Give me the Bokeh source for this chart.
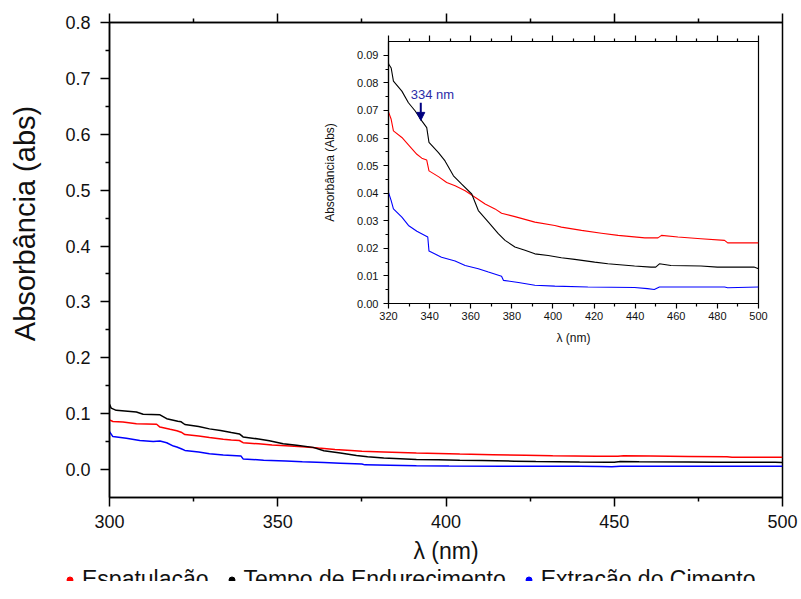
from bokeh.plotting import figure
from bokeh.models import (Range1d, LinearAxis, FixedTicker, PrintfTickFormatter, Legend,
                          LegendItem, Label, Arrow, NormalHead, GridBox,
                          CustomJSTickFormatter)
from bokeh.embed import file_html
from bokeh.resources import INLINE

FONT = "Liberation Sans"

# ---------------- data ----------------
series_names = ["Espatulação", "Tempo de Endurecimento", "Extração do Cimento"]
series_colors = ["#ff0000", "#000000", "#0000ff"]

esp_nm = [300, 301, 304, 308, 314, 315, 318, 320, 321.3, 322.4, 326.5, 329.7, 333.8, 336.2,
          338.6, 339.7, 344.3, 348.3, 352.4, 357.3, 362.1, 367, 371.8, 375, 381.5, 391.2,
          400.9, 404.1, 413.9, 423.6, 431.7, 444.7, 451.1, 452.8, 460.8, 472, 483.5, 485, 500]
esp_abs = [0.089, 0.086, 0.085, 0.082, 0.081, 0.076, 0.072, 0.0695, 0.0668, 0.0626, 0.0602,
           0.0575, 0.0541, 0.0527, 0.0520, 0.0481, 0.0460, 0.0439, 0.0427, 0.0409, 0.0385,
           0.0361, 0.0343, 0.0327, 0.0315, 0.0295, 0.0283, 0.0277, 0.0265, 0.0255, 0.0247,
           0.0238, 0.0238, 0.0247, 0.0241, 0.0235, 0.0229, 0.0220, 0.0220]

tempo_nm = [300, 300.5, 302, 308, 310, 315, 317, 320.3, 321.3, 322.4, 326.5, 329.7, 333,
            336.2, 338.6, 339.7, 344.3, 347.5, 351.6, 355.6, 360.5, 363.7, 368.6, 373.4,
            376.7, 381.5, 386.4, 391.2, 397.7, 404.1, 410.6, 420.3, 426.7, 439.7, 447.7,
            450, 451.8, 457.4, 472, 480, 497.8, 500]
tempo_abs = [0.117, 0.110, 0.106, 0.103, 0.099, 0.098, 0.091, 0.0866, 0.0854, 0.0806,
             0.0770, 0.0728, 0.0698, 0.0662, 0.0638, 0.0584, 0.0547, 0.0517, 0.0463, 0.0433,
             0.0397, 0.0337, 0.0295, 0.0253, 0.0229, 0.0205, 0.0193, 0.0180, 0.0174, 0.0166,
             0.0160, 0.0150, 0.0144, 0.0136, 0.0132, 0.0132, 0.0144, 0.0138, 0.0136, 0.0132,
             0.0132, 0.0126]

extr_nm = [300, 301, 305, 309, 313, 315, 317, 319, 320, 321.3, 322.4, 326.5, 329.7, 333.8,
           339.1, 339.7, 345.8, 352.4, 357.3, 363.7, 368.6, 375, 375.9, 383.2, 391.2, 400.9,
           417, 439.7, 446, 449.3, 451.8, 483.5, 485, 500]
extr_abs = [0.068, 0.059, 0.056, 0.052, 0.050, 0.051, 0.048, 0.042, 0.0403, 0.0373, 0.0343,
            0.0313, 0.0283, 0.0262, 0.0241, 0.0190, 0.0168, 0.0154, 0.0138, 0.0126, 0.0114,
            0.0099, 0.0084, 0.0076, 0.0066, 0.0063, 0.0060, 0.0058, 0.0054, 0.0051, 0.0060,
            0.0060, 0.0057, 0.0060]

main_x_ticks = [300, 350, 400, 450, 500]
main_x_minor = [325, 375, 425, 475]
main_y_ticks = [0.0, 0.1, 0.2, 0.3, 0.4, 0.5, 0.6, 0.7, 0.8]
main_y_minor = [0.05, 0.15, 0.25, 0.35, 0.45, 0.55, 0.65, 0.75]

inset_x_ticks = [320, 340, 360, 380, 400, 420, 440, 460, 480, 500]
inset_x_minor = [330, 350, 370, 390, 410, 430, 450, 470, 490]
inset_y_ticks = [0.00, 0.01, 0.02, 0.03, 0.04, 0.05, 0.06, 0.07, 0.08, 0.09]
inset_y_minor = [0.005, 0.015, 0.025, 0.035, 0.045, 0.055, 0.065, 0.075, 0.085]

main_y_title = "Absorbância (abs)"
peak_label = "334 nm"
peak_nm = 335.7
peak_label_pos = (341.4, 0.0758)
peak_arrow_from = 0.0728
peak_arrow_to = 0.0664

series = [(esp_nm, esp_abs), (tempo_nm, tempo_abs), (extr_nm, extr_abs)]


def style_axis(ax, font_size, tick_out, minor_out, standoff, width):
    ax.major_label_text_font = FONT
    ax.major_label_text_font_size = font_size
    ax.major_label_text_color = "#111111"
    ax.axis_label_text_font = FONT
    ax.axis_label_text_font_style = "normal"
    ax.axis_label_text_color = "#111111"
    ax.major_tick_out = tick_out
    ax.major_tick_in = 0
    ax.minor_tick_out = minor_out
    ax.minor_tick_in = 0
    ax.major_label_standoff = standoff
    ax.axis_line_width = width
    ax.major_tick_line_width = width
    ax.minor_tick_line_width = width
    ax.axis_line_color = "black"
    ax.major_tick_line_color = "black"
    ax.minor_tick_line_color = "black"


def overlay_fig(w, h):
    f = figure(width=w, height=h, output_backend="svg", toolbar_location=None,
               x_range=Range1d(0, 1), y_range=Range1d(0, 1),
               x_axis_type=None, y_axis_type=None, min_border=0,
               background_fill_alpha=0, border_fill_alpha=0, outline_line_color=None)
    f.grid.visible = False
    return f


blank = CustomJSTickFormatter(code="return ''")

# ---------------- main figure ----------------
p = figure(width=801, height=599, output_backend="svg", toolbar_location=None,
           x_range=Range1d(300, 500), y_range=Range1d(-0.05, 0.8),
           min_border_left=109, min_border_right=19, min_border_top=22, min_border_bottom=102)
p.grid.visible = False
p.outline_line_color = "black"
p.outline_line_width = 1.5

for (xs, ys), c in zip(series, series_colors):
    p.line(xs, ys, line_color=c, line_width=1.5)

xt = FixedTicker(ticks=main_x_ticks, minor_ticks=main_x_minor)
yt = FixedTicker(ticks=main_y_ticks, minor_ticks=main_y_minor)

xa = p.xaxis[0]
xa.ticker = xt
xa.axis_label = "λ (nm)"
style_axis(xa, "18px", 9, 4, 8, 1.5)
xa.axis_label_text_font_size = "23px"
xa.axis_label_standoff = 7

ya = p.yaxis[0]
ya.ticker = yt
ya.formatter = PrintfTickFormatter(format="%.1f")
style_axis(ya, "18px", 9, 4, 10, 1.5)

top = LinearAxis(ticker=xt, formatter=blank)
style_axis(top, "18px", 9, 4, 0, 1.5)
p.add_layout(top, "above")

# ---------------- y-axis title (overlay strip at the left) ----------------
lab = overlay_fig(40, 300)
lab.add_layout(Label(x=20, y=150, x_units="screen", y_units="screen", text=main_y_title,
                     angle=90, angle_units="deg", text_align="center", text_baseline="middle",
                     text_font=FONT, text_font_size="29px", text_color="#111111"))

# ---------------- legend strip (overlay at the bottom) ----------------
leg = overlay_fig(739, 54)
proxies = []
for c in series_colors:
    proxies.append(leg.scatter(x=[float("nan")], y=[float("nan")], size=6,
                               fill_color=c, line_color=c, marker="circle"))
legend = Legend(items=[LegendItem(label=n, renderers=[r]) for n, r in zip(series_names, proxies)],
                orientation="horizontal", location="top_left",
                glyph_width=15, glyph_height=15, label_standoff=5, spacing=15,
                label_height=32, padding=0, margin=0, border_line_alpha=0,
                background_fill_alpha=0,
                label_text_font=FONT, label_text_font_size="23px", label_text_color="#111111")
leg.add_layout(legend)

# ---------------- inset figure ----------------
ins = figure(width=450, height=320, output_backend="svg", toolbar_location=None,
             x_range=Range1d(320, 500), y_range=Range1d(0, 0.095),
             min_border_left=67, min_border_right=12, min_border_top=11, min_border_bottom=47,
             background_fill_alpha=0, border_fill_alpha=0)
ins.grid.visible = False
ins.outline_line_color = "black"
ins.outline_line_width = 1.2

for (xs, ys), c in zip(series, series_colors):
    ins.line(xs, ys, line_color=c, line_width=1.1)

ixt = FixedTicker(ticks=inset_x_ticks, minor_ticks=inset_x_minor)
iyt = FixedTicker(ticks=inset_y_ticks, minor_ticks=inset_y_minor)

ixa = ins.xaxis[0]
ixa.ticker = ixt
ixa.axis_label = "λ (nm)"
style_axis(ixa, "11px", 5, 3, 3, 1.2)
ixa.axis_label_text_font_size = "12px"
ixa.axis_label_standoff = 8

iya = ins.yaxis[0]
iya.ticker = iyt
iya.formatter = PrintfTickFormatter(format="%.2f")
iya.axis_label = "Absorbância (Abs)"
style_axis(iya, "11px", 5, 3, 5, 1.2)
iya.axis_label_text_font_size = "12px"
iya.axis_label_standoff = 17

itop = LinearAxis(ticker=ixt, formatter=blank)
style_axis(itop, "11px", 6, 3, 0, 1.2)
ins.add_layout(itop, "above")

ins.add_layout(Label(x=peak_label_pos[0], y=peak_label_pos[1], text=peak_label,
                     text_align="center", text_baseline="middle",
                     text_font=FONT, text_font_size="13px", text_color="#2b2ba8"))
ins.add_layout(Arrow(end=NormalHead(size=8, fill_color="#000080", line_color="#000080"),
                     x_start=peak_nm, y_start=peak_arrow_from,
                     x_end=peak_nm, y_end=peak_arrow_to,
                     line_color="#000080", line_width=2))

# grid tracks: x edges 0,4,44,62,320,770,801 ; y edges 0,30,73,350,373,545,599
root = GridBox(children=[(p, 0, 0, 6, 6),
                         (ins, 1, 4, 2, 1),
                         (lab, 2, 1, 2, 1),
                         (leg, 5, 3, 1, 3)],
               rows=["30px", "43px", "277px", "23px", "172px", "54px"],
               cols=["4px", "40px", "18px", "258px", "450px", "31px"])

open("out.html", "w").write(file_html(root, INLINE))
